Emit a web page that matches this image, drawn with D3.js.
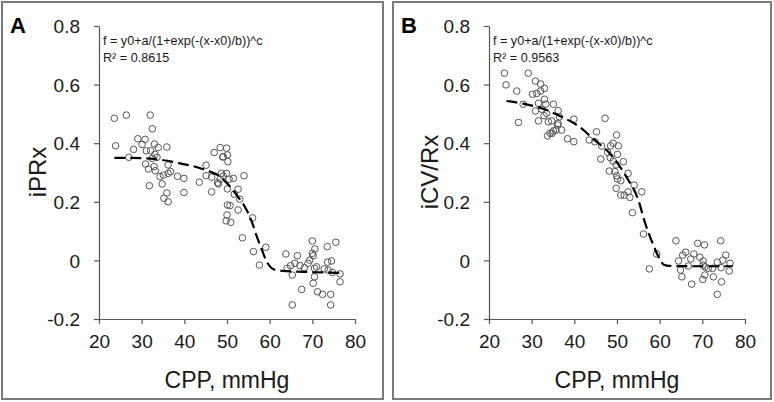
<!DOCTYPE html>
<html>
<head>
<meta charset="utf-8">
<script src="https://cdn.jsdelivr.net/npm/d3@7"></script>
<style>
  body { margin: 0; background: #fff; }
  svg { display: block; font-family: "Liberation Sans", Arial, sans-serif; }
</style>
</head>
<body>
<svg id="chart" width="774" height="402"></svg>
<script>
// ---------- DATA ----------
const xTicks = [20, 30, 40, 50, 60, 70, 80];
const yTicks = [-0.2, 0, 0.2, 0.4, 0.6, 0.8];
const yTickLabels = ["-0.2", "0", "0.2", "0.4", "0.6", "0.8"];

const panelLabels = ["A", "B"];
const yTitles = ["iPRx", "iCV/Rx"];
const xTitle = "CPP, mmHg";
const formulaText = "f = y0+a/(1+exp(-(x-x0)/b))^c";
const r2Texts = ["R² = 0.8615", "R² = 0.9563"];

// Panel A scatter: CPP values and iPRx values
const cppA = [23.6,26.4,32.0,32.5,23.9,29.1,30.8,28.1,30.1,31.1,32.1,33.0,33.9,35.9,27.0,33.1,32.5,33.6,30.9,31.6,
  32.9,33.2,36.2,34.3,35.1,36.2,36.8,34.8,31.8,38.4,39.9,35.9,35.2,36.2,39.9,43.5,45.1,45.1,46.4,46.4,
  47.0,48.4,49.0,48.0,48.7,48.4,49.9,49.1,50.1,50.2,49.9,49.1,47.8,50.5,51.5,54.0,50.1,52.6,51.7,53.0,
  50.1,50.7,52.6,50.0,49.8,50.9,56.0,53.6,56.2,59.1,57.6,63.8,66.5,70.0,75.5,73.5,70.6,70.0,70.2,69.4,
  69.0,65.9,64.9,64.1,67.1,68.1,73.6,74.5,70.5,71.0,72.8,73.7,74.7,76.5,65.3,70.5,70.2,76.5,67.5,71.2,
  72.4,74.3,65.3,74.3];
const iprxA = [0.485,0.496,0.496,0.449,0.391,0.415,0.413,0.379,0.396,0.374,0.374,0.397,0.385,0.387,0.352,0.362,0.348,0.352,0.329,0.312,
  0.320,0.306,0.326,0.286,0.291,0.297,0.303,0.261,0.255,0.287,0.280,0.230,0.212,0.200,0.232,0.267,0.325,0.289,0.284,0.234,
  0.368,0.385,0.353,0.261,0.297,0.277,0.383,0.354,0.360,0.337,0.297,0.288,0.265,0.277,0.280,0.289,0.244,0.243,0.226,0.209,
  0.189,0.187,0.172,0.155,0.135,0.130,0.145,0.077,0.030,0.045,-0.016,0.022,0.016,0.066,0.062,0.047,0.039,0.024,0.016,0.001,
  -0.010,-0.010,-0.018,-0.027,-0.018,-0.025,-0.006,-0.002,-0.027,-0.022,-0.029,-0.033,-0.041,-0.046,-0.050,-0.056,-0.078,-0.073,-0.099,-0.107,
  -0.116,-0.116,-0.152,-0.152];

// Panel A fitted curve
const fitCppA = [23.6,27,33,36,39,43,46,48.4,50,52.6,54.6,55.8,57,58.2,59.3,60.3,61.2,63,70,77.3];
const fitIprxA = [0.350,0.350,0.346,0.340,0.331,0.318,0.303,0.286,0.263,0.217,0.172,0.132,0.081,0.035,-0.004,-0.024,-0.032,-0.036,-0.040,-0.043];

// Panel B scatter: CPP values and iCV/Rx values
const cppB = [23.6,29.2,24.0,26.5,30.9,32.1,33.0,32.1,30.2,31.2,28.0,31.6,33.0,33.3,35.1,30.9,32.4,33.5,36.2,32.9,
  26.9,31.6,33.9,34.7,36.5,36.2,39.9,36.1,35.7,35.1,34.3,33.7,34.8,37.0,38.4,39.9,43.5,45.2,46.4,46.2,
  47.2,44.8,49.9,49.1,48.5,50.3,47.8,50.1,48.4,49.1,51.5,49.8,48.2,49.5,52.6,49.9,50.1,50.9,54.0,49.8,
  52.6,50.9,51.7,53.0,55.8,53.6,56.2,59.3,57.6,63.8,68.9,70.5,74.3,66.1,65.4,68.0,69.4,64.4,67.3,70.2,
  73.5,75.5,74.8,76.5,64.9,66.7,70.2,70.6,71.4,72.4,74.4,76.3,65.2,70.6,72.6,70.1,67.5,74.5,73.5];
const icvrxB = [0.639,0.639,0.599,0.578,0.612,0.602,0.587,0.578,0.567,0.570,0.533,0.536,0.550,0.533,0.533,0.510,0.516,0.502,0.511,0.494,
  0.471,0.476,0.473,0.476,0.490,0.468,0.482,0.462,0.445,0.442,0.434,0.425,0.434,0.445,0.415,0.405,0.411,0.439,0.390,0.346,
  0.485,0.405,0.428,0.400,0.391,0.391,0.369,0.362,0.351,0.339,0.337,0.326,0.305,0.303,0.297,0.289,0.278,0.272,0.257,0.246,
  0.234,0.223,0.223,0.215,0.234,0.163,0.090,0.022,-0.029,0.067,0.058,0.053,0.067,0.028,0.018,0.022,0.011,-0.002,0.005,-0.002,
  -0.006,0.018,0.001,-0.010,-0.033,-0.019,-0.016,-0.022,-0.027,-0.027,-0.025,-0.036,-0.056,-0.050,-0.056,-0.065,-0.081,-0.073,-0.116];

// Panel B fitted curve
const fitCppB = [24.1,28,33,37,41,44.5,48.5,52,55,56.6,58.5,60,61,62.3,70,77.1];
const fitIcvrxB = [0.544,0.535,0.516,0.490,0.458,0.414,0.362,0.290,0.206,0.127,0.053,0.005,-0.015,-0.019,-0.020,-0.020];

// ---------- DRAW ----------
const svg = d3.select("#chart");
const textColor = "#1a1a1a";
const axisColor = "#555";

const panels = [
  { frame: [2, 2, 381, 397], x0: 99, label: panelLabels[0], yTitle: yTitles[0], r2: r2Texts[0],
    xs: cppA, ys: iprxA, fx: fitCppA, fy: fitIprxA, titleX: 38 },
  { frame: [393, 2, 378, 397], x0: 489, label: panelLabels[1], yTitle: yTitles[1], r2: r2Texts[1],
    xs: cppB, ys: icvrxB, fx: fitCppB, fy: fitIcvrxB, titleX: 430 }
];

panels.forEach(p => {
  const g = svg.append("g");
  g.append("rect")
    .attr("x", p.frame[0]).attr("y", p.frame[1])
    .attr("width", p.frame[2]).attr("height", p.frame[3])
    .attr("fill", "none").attr("stroke", "#7a7a7a").attr("stroke-width", 2);

  const x = d3.scaleLinear().domain([20, 80]).range([p.x0, p.x0 + 256]);
  const y = d3.scaleLinear().domain([-0.2, 0.8]).range([319, 26]);

  // y axis
  const ya = g.append("g").attr("transform", `translate(${p.x0},0)`)
    .call(d3.axisLeft(y).tickValues(yTicks).tickSize(5).tickSizeOuter(0)
      .tickFormat((d, i) => yTickLabels[i]).tickPadding(14));
  // x axis
  const xa = g.append("g").attr("transform", `translate(0,319)`)
    .call(d3.axisBottom(x).tickValues(xTicks).tickSize(5).tickSizeOuter(0)
      .tickFormat(d3.format("d")).tickPadding(6));
  [ya, xa].forEach(a => {
    a.selectAll("path.domain").attr("stroke", axisColor).attr("stroke-width", 1.2);
    a.selectAll(".tick line").attr("stroke", axisColor).attr("stroke-width", 1.2);
    a.selectAll(".tick text").attr("fill", textColor)
      .style("font-family", "'Liberation Sans', Arial, sans-serif").style("font-size", "19px");
  });
  ya.selectAll(".tick text").attr("dy", "0.35em");
  xa.selectAll(".tick text").attr("dy", "0.95em");

  // scatter points
  g.append("g").selectAll("circle")
    .data(p.xs.map((v, i) => [v, p.ys[i]]))
    .join("circle")
    .attr("cx", d => x(d[0])).attr("cy", d => y(d[1]))
    .attr("r", 3.3)
    .attr("fill", "none").attr("stroke", "#555").attr("stroke-width", 1);

  // fitted curve
  const line = d3.line().x(d => x(d[0])).y(d => y(d[1])).curve(d3.curveMonotoneX);
  g.append("path")
    .datum(p.fx.map((v, i) => [v, p.fy[i]]))
    .attr("d", line)
    .attr("fill", "none").attr("stroke", "#000").attr("stroke-width", 2.2)
    .attr("stroke-dasharray", "11,5");

  // labels
  g.append("text").attr("x", p.frame[0] + 8).attr("y", 33)
    .attr("font-size", 22).attr("font-weight", "bold").attr("fill", "#000").text(p.label);
  g.append("text").attr("x", p.x0 + 4).attr("y", 45)
    .attr("font-size", 12.6).attr("fill", textColor).text(formulaText);
  g.append("text").attr("x", p.x0 + 4).attr("y", 62)
    .attr("font-size", 12.6).attr("fill", textColor).text(p.r2);
  g.append("text")
    .attr("transform", `translate(${p.titleX},172) rotate(-90)`)
    .attr("text-anchor", "middle").attr("dy", "0.35em")
    .attr("font-size", 24).attr("fill", textColor).text(p.yTitle);
  g.append("text").attr("x", p.x0 + 128).attr("y", 388)
    .attr("text-anchor", "middle")
    .attr("font-size", 23).attr("fill", textColor).text(xTitle);
});
</script>
</body>
</html>
